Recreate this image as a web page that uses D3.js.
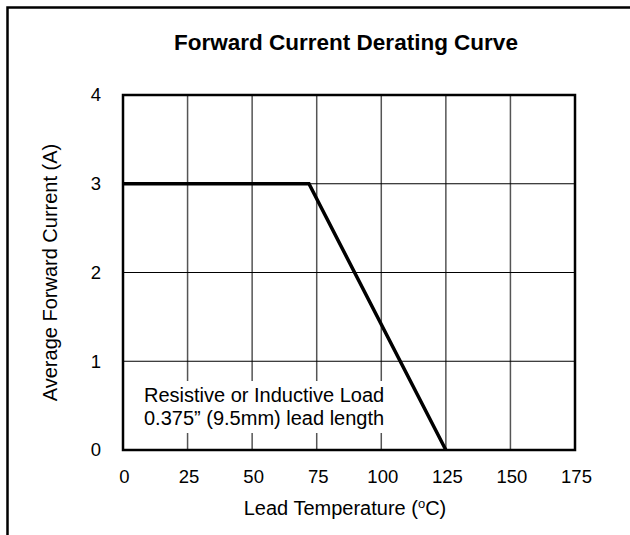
<!DOCTYPE html>
<html>
<head>
<meta charset="utf-8">
<script src="https://cdn.jsdelivr.net/npm/d3@7"></script>
<style>
  body { margin: 0; background: #fff; }
  svg { display: block; font-family: "Liberation Sans", Arial, sans-serif; }
</style>
</head>
<body>
<div id="chart"></div>
<script>
'use strict';

// derating curve, temperature (C) vs current (A)
var temps = [0, 72, 125];
var currents = [3, 3, 0];
var xTicks = [0, 25, 50, 75, 100, 125, 150, 175];
var yTicks = [0, 1, 2, 3, 4];
var noteLines = ['Resistive or Inductive Load', '0.375\u201d (9.5mm) lead length'];

var width = 630,
    height = 535,
    margin = { top: 95, right: 55, bottom: 85, left: 123 },
    svg = d3.select('#chart').append('svg').attr('width', width).attr('height', height),
    x = d3.scaleLinear().domain([0, 175]).range([margin.left, width - margin.right]),
    y = d3.scaleLinear().domain([0, 4]).range([height - margin.bottom, margin.top]);

// outer frame, only left and top edges
svg.append('path')
    .attr('d', 'M7.5,' + height + 'V7.5H' + width)
    .attr('fill', 'none').attr('stroke', '#000').attr('stroke-width', 2.5);

svg.append('text')
    .attr('x', 346).attr('y', 50)
    .attr('text-anchor', 'middle')
    .style('font-size', '22.5px').style('font-weight', 'bold')
    .text('Forward Current Derating Curve');

// grid
svg.append('g').selectAll('line').data(xTicks.slice(1, -1)).enter().append('line')
    .attr('x1', function (d) { return x(d); }).attr('x2', function (d) { return x(d); })
    .attr('y1', y(4)).attr('y2', y(0))
    .attr('stroke', '#555').attr('stroke-width', 1.5);

svg.append('g').selectAll('line').data(yTicks.slice(1, -1)).enter().append('line')
    .attr('x1', x(0)).attr('x2', x(175))
    .attr('y1', function (d) { return y(d); }).attr('y2', function (d) { return y(d); })
    .attr('stroke', '#000').attr('stroke-width', 1);

// note box, white background hides the grid
var note = svg.append('g');
note.append('rect')
    .attr('x', 140).attr('y', 381).attr('width', 252).attr('height', 52)
    .attr('fill', '#fff');
note.selectAll('text').data(noteLines).enter().append('text')
    .attr('x', 144).attr('y', function (d, i) { return 402 + i * 23; })
    .style('font-size', '20px')
    .text(function (d) { return d; });

// plot border
svg.append('rect')
    .attr('x', x(0)).attr('y', y(4))
    .attr('width', x(175) - x(0)).attr('height', y(0) - y(4))
    .attr('fill', 'none').attr('stroke', '#000').attr('stroke-width', 2.5);

// curve
var line = d3.line()
    .x(function (d) { return x(d[0]); })
    .y(function (d) { return y(d[1]); });

svg.append('path')
    .datum(d3.zip(temps, currents))
    .attr('d', line)
    .attr('fill', 'none').attr('stroke', '#000').attr('stroke-width', 3.5)
    .attr('stroke-linejoin', 'miter');

// axes (labels only)
var xAxis = svg.append('g')
    .attr('transform', 'translate(0,' + y(0) + ')')
    .call(d3.axisBottom(x).tickValues(xTicks).tickFormat(d3.format('d')).tickSize(0).tickPadding(20));
var yAxis = svg.append('g')
    .attr('transform', 'translate(' + x(0) + ',0)')
    .call(d3.axisLeft(y).tickValues(yTicks).tickFormat(d3.format('d')).tickSize(0).tickPadding(22));

[xAxis, yAxis].forEach(function (g) {
    g.select('.domain').remove();
    g.selectAll('text')
        .style('font-size', '18.5px')
        .style('font-family', '"Liberation Sans", Arial, sans-serif')
        .attr('fill', '#000');
});
xAxis.selectAll('text').attr('dx', 1);

var xLabel = svg.append('text')
    .attr('x', 345).attr('y', 515)
    .attr('text-anchor', 'middle')
    .style('font-size', '20px');
xLabel.append('tspan').text('Lead Temperature (');
xLabel.append('tspan').attr('dy', -7).style('font-size', '13px').text('o');
xLabel.append('tspan').attr('dy', 7).text('C)');

svg.append('text')
    .attr('transform', 'translate(57,' + (y(2)) + ') rotate(-90)')
    .attr('text-anchor', 'middle')
    .style('font-size', '20px')
    .text('Average Forward Current (A)');
</script>
</body>
</html>
